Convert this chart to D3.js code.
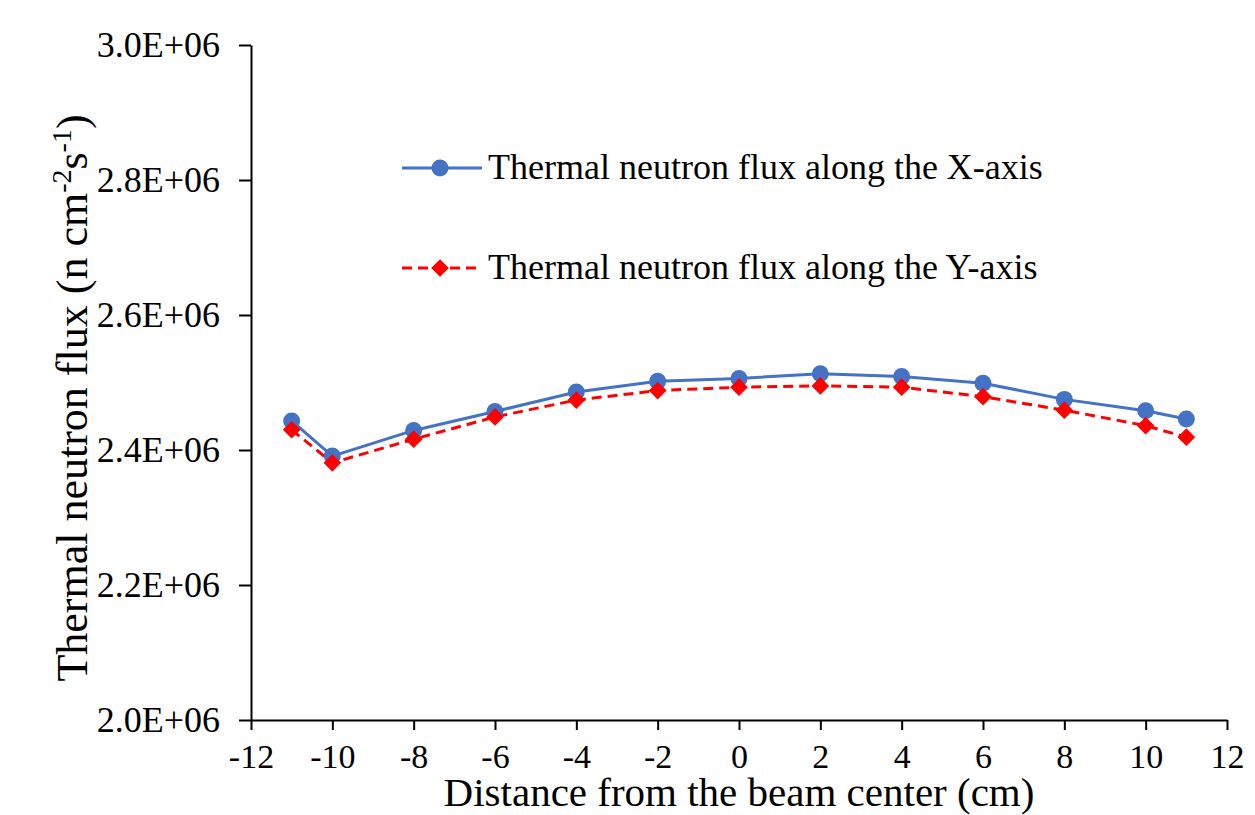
<!DOCTYPE html>
<html>
<head>
<meta charset="utf-8">
<script src="https://cdn.jsdelivr.net/npm/d3@7"></script>
<style>
  body { margin: 0; background: #fff; }
  svg text { font-family: "Liberation Serif", "Times New Roman", serif; fill: #000; }
</style>
</head>
<body>
<svg class="graphique"></svg>
<script>
// données
const positions = [-11, -10, -8, -6, -4, -2, 0, 2, 4, 6, 8, 10, 11]
const fluxX = [2.443e6, 2.391e6, 2.429e6, 2.457e6, 2.486e6, 2.502e6, 2.506e6, 2.513e6, 2.509e6, 2.499e6, 2.475e6, 2.458e6, 2.446e6]
const fluxY = [2.430e6, 2.381e6, 2.416e6, 2.449e6, 2.474e6, 2.488e6, 2.493e6, 2.495e6, 2.493e6, 2.479e6, 2.459e6, 2.436e6, 2.419e6]
const xTicks = [-12, -10, -8, -6, -4, -2, 0, 2, 4, 6, 8, 10, 12]
const yTicks = [2.0e6, 2.2e6, 2.4e6, 2.6e6, 2.8e6, 3.0e6]
const seriesNames = ["Thermal neutron flux along the X-axis", "Thermal neutron flux along the Y-axis"]

const W = 1255, H = 815
const margin = { top: 45, right: 28, bottom: 95, left: 251 }
const width = W - margin.left - margin.right
const height = H - margin.top - margin.bottom

const svg = d3.select(".graphique").attr("width", W).attr("height", H)
const g = svg.append("g").attr("transform", "translate(" + margin.left + "," + margin.top + ")")

const x = d3.scaleLinear().domain([-12, 12]).range([0, width])
const y = d3.scaleLinear().domain([2.0e6, 3.0e6]).range([height, 0])

// axe x (tiret simple, pas le signe moins unicode)
const xAxis = g.append("g")
    .attr("transform", "translate(0," + height + ")")
    .call(d3.axisBottom(x).tickValues(xTicks).tickSize(10).tickSizeOuter(0).tickPadding(14).tickFormat(d => String(d)))
xAxis.select(".domain").attr("stroke", "#000").attr("stroke-width", 2)
xAxis.selectAll(".tick line").attr("stroke", "#000").attr("stroke-width", 2)
xAxis.selectAll("text").attr("font-size", 34).attr("font-family", "Liberation Serif").attr("fill", "#000")

// axe y
const yAxis = g.append("g")
    .call(d3.axisLeft(y).tickValues(yTicks).tickSize(12).tickSizeOuter(0).tickPadding(19)
        .tickFormat(d => (d / 1e6).toFixed(1) + "E+06"))
yAxis.select(".domain").attr("stroke", "#000").attr("stroke-width", 2)
yAxis.selectAll(".tick line").attr("stroke", "#000").attr("stroke-width", 2)
yAxis.selectAll("text").attr("font-size", 36).attr("font-family", "Liberation Serif").attr("fill", "#000")

// titres des axes
g.append("text")
    .attr("x", width / 2).attr("y", 806 - margin.top)
    .attr("text-anchor", "middle").attr("font-size", 41)
    .text("Distance from the beam center (cm)")

const yTitle = g.append("text")
    .attr("transform", "translate(" + (87 - margin.left) + "," + (398 - margin.top) + ") rotate(-90)")
    .attr("text-anchor", "middle").attr("font-size", 44)
yTitle.append("tspan").text("Thermal neutron flux (n cm")
yTitle.append("tspan").attr("font-size", 28).attr("dy", -16).text("-2")
yTitle.append("tspan").attr("dy", 16).text("s")
yTitle.append("tspan").attr("font-size", 28).attr("dy", -16).text("-1")
yTitle.append("tspan").attr("dy", 16).text(")")

// courbes
const line = d3.line().x((d, i) => x(positions[i])).y(d => y(d))

g.append("path").datum(fluxX)
    .attr("fill", "none").attr("stroke", "#4472C4").attr("stroke-width", 3)
    .attr("d", line)
g.append("path").datum(fluxY)
    .attr("fill", "none").attr("stroke", "#FF0000").attr("stroke-width", 3)
    .attr("stroke-dasharray", "10,6")
    .attr("d", line)

const diamond = d3.symbol().type(d3.symbolDiamond2).size(200)

g.selectAll(".ptX").data(fluxX).join("circle")
    .attr("class", "ptX")
    .attr("cx", (d, i) => x(positions[i])).attr("cy", d => y(d))
    .attr("r", 8.5).attr("fill", "#4472C4")
g.selectAll(".ptY").data(fluxY).join("path")
    .attr("class", "ptY")
    .attr("transform", (d, i) => "translate(" + x(positions[i]) + "," + y(d) + ")")
    .attr("d", diamond).attr("fill", "#FF0000")

// légende
const legend = svg.append("g")
const legRows = [
    { name: seriesNames[0], color: "#4472C4", dash: null, y: 168, marker: "circle" },
    { name: seriesNames[1], color: "#FF0000", dash: "10,6", y: 268, marker: "diamond" }
]
legRows.forEach(r => {
    legend.append("line")
        .attr("x1", 402).attr("x2", 482).attr("y1", r.y).attr("y2", r.y)
        .attr("stroke", r.color).attr("stroke-width", 3)
        .attr("stroke-dasharray", r.dash)
    if (r.marker === "circle") {
        legend.append("circle").attr("cx", 440).attr("cy", r.y).attr("r", 8.5).attr("fill", r.color)
    } else {
        legend.append("path").attr("transform", "translate(440," + r.y + ")").attr("d", diamond).attr("fill", r.color)
    }
    legend.append("text")
        .attr("x", 488).attr("y", r.y + 11)
        .attr("font-size", 36)
        .text(r.name)
})
</script>
</body>
</html>
